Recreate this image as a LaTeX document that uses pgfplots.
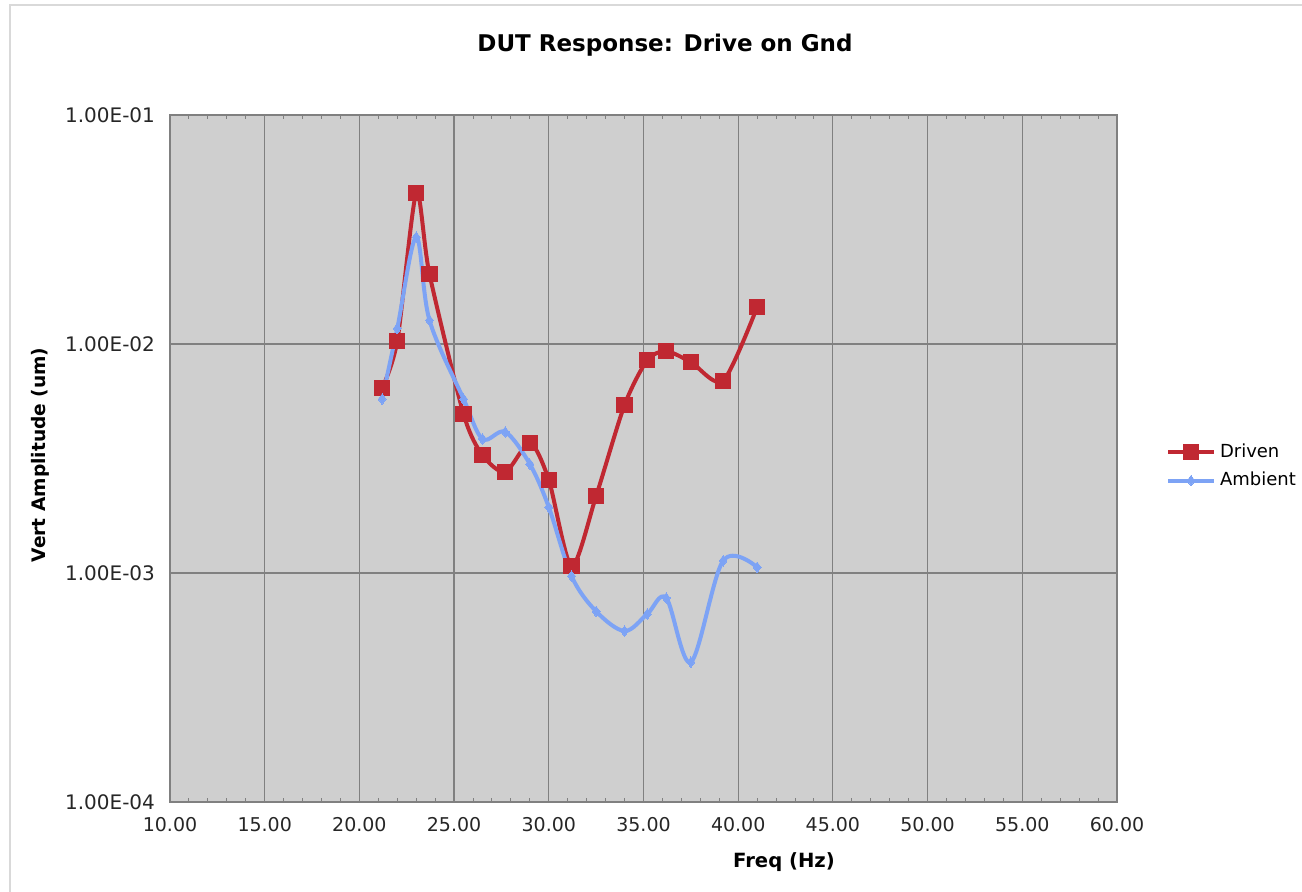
\documentclass[border=0pt]{standalone}
\usepackage{fontspec}
\setmainfont{DejaVu Sans}
\usepackage{pgfplots}
\pgfplotsset{compat=1.18}

\definecolor{drivenred}{RGB}{192,40,50}
\definecolor{ambientblue}{RGB}{125,163,245}
\definecolor{plotbg}{RGB}{207,207,207}
\definecolor{gridgray}{RGB}{128,128,128}

\begin{document}
\begin{tikzpicture}
\begin{axis}[
 at={(0,0)}, anchor=south west,
 scale only axis,
 width=473.5pt, height=343.5pt,
 xmin=10, xmax=60,
 ymode=log, ymin=1e-4, ymax=1e-1,
 xtick={10,15,...,60},
 xticklabels={10.00,15.00,20.00,25.00,30.00,35.00,40.00,45.00,50.00,55.00,60.00},
 ytick={1e-4,1e-3,1e-2,1e-1},
 yticklabels={1.00E-04,1.00E-03,1.00E-02,1.00E-01},
 minor x tick num=4,
 yminorticks=false,
 tick label style={font=\fontsize{9.5}{11}\selectfont, text=black!85},
 yticklabel style={xshift=-4pt, font=\fontsize{10}{11}\selectfont},
 xticklabel style={yshift=-4pt},
 major tick length=3pt, minor tick length=2pt,
 tick align=inside,
 tick style={gridgray, line width=0.5pt},
 axis background/.style={fill=plotbg},
 axis line style={gridgray, line width=0.8pt},
 grid=major,
 major grid style={gridgray, line width=0.6pt},
 legend style={draw=none, fill=none, at={(axis description cs:1.045,0.534)},
   anchor=north west, font=\fontsize{9}{11}\selectfont,
   row sep=2pt},
 legend cell align=left,
 legend image code/.code={
   \draw[#1] (0pt,0pt) -- (23pt,0pt);
   \draw[#1, only marks] plot coordinates {(11.5pt,0pt)};
 },
]

\addplot[drivenred, line width=2pt, smooth, tension=0.45,
  mark=square*, mark size=3.8pt, mark options={solid, fill=drivenred, draw=drivenred, line width=0pt}]
coordinates {
 (21.2,6.4e-3) (22.0,1.03e-2) (23.0,4.56e-2) (23.7,2.02e-2) (25.5,4.94e-3)
 (26.5,3.27e-3) (27.7,2.76e-3) (29.0,3.70e-3) (30.0,2.55e-3) (31.2,1.07e-3)
 (32.5,2.17e-3) (34.0,5.42e-3) (35.2,8.5e-3) (36.2,9.3e-3) (37.5,8.34e-3)
 (39.2,6.9e-3) (41.0,1.45e-2)
};
\addlegendentry{Driven}

\addplot[ambientblue, line width=2pt, smooth, tension=0.55,
  mark=diamond*, mark size=2.6pt, mark options={solid, fill=ambientblue, draw=ambientblue, line width=0pt}]
coordinates {
 (21.2,5.75e-3) (22.0,1.17e-2) (23.0,2.93e-2) (23.7,1.27e-2) (25.5,5.75e-3)
 (26.5,3.85e-3) (27.7,4.13e-3) (29.0,2.99e-3) (30.0,1.94e-3) (31.2,9.7e-4)
 (32.5,6.8e-4) (34.0,5.58e-4) (35.2,6.62e-4) (36.2,7.78e-4) (37.5,4.08e-4)
 (39.2,1.13e-3) (41.0,1.06e-3)
};
\addlegendentry{Ambient}

\end{axis}

% titles and labels
\node[font=\fontsize{11.5}{13}\selectfont\bfseries] at (247.5pt,378.5pt) {DUT Response: Drive on Gnd};
\node[font=\fontsize{9.8}{12}\selectfont\bfseries] at (307pt,-30pt) {Freq (Hz)};
\node[font=\fontsize{9.3}{12}\selectfont\bfseries, rotate=90] at (-65pt,173.5pt) {Vert Amplitude (um)};

% chart frame
\draw[black!15, line width=1.2pt] (-80pt,-50pt) -- (-80pt,398.5pt) -- (600pt,398.5pt);

\pgfresetboundingbox
\useasboundingbox (-85pt,-45pt) rectangle (566pt,401pt);
\end{tikzpicture}
\end{document}
